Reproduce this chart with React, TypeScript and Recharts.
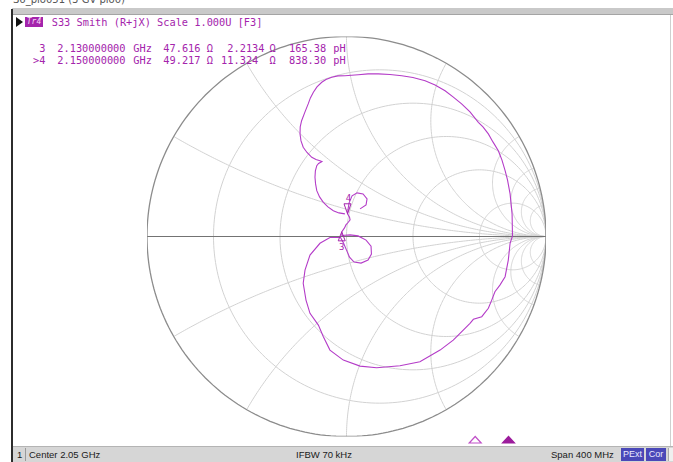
import React from 'react';
import { ScatterChart, Scatter, XAxis, YAxis } from 'recharts';

// ---- chart values ----
// Smith chart grid (normalised resistance circles, reactance arcs)
const resistanceCircles = [0.2, 0.5, 1, 2, 5];
const reactanceArcs = [0.268, 0.577, 1, 1.732, 3.73, 5.67, 8.1, 12.7];

// Trace 4: S33 reflection coefficient, real and imaginary parts
const traceRe = [
  0.068, 0.098, 0.103, 0.083, 0.053, 0.028, 0.013, 0.008, 0.005, 0.015, 0.018, 0.008, -0.003, -0.01, -0.024,
  -0.023, 0.018, 0.058, 0.098, 0.123, 0.125, 0.108, 0.073, 0.038, 0.015, 0.0, -0.015, -0.03, -0.083, -0.133,
  -0.183, -0.208, -0.217, -0.203, -0.183, -0.141, -0.116, -0.083, -0.016, 0.068, 0.151, 0.268, 0.368, 0.469,
  0.535, 0.569, 0.619, 0.636, 0.678, 0.711, 0.728, 0.744, 0.769, 0.795, 0.811, 0.82, 0.832, 0.83, 0.82, 0.807,
  0.795, 0.779, 0.761, 0.734, 0.711, 0.684, 0.661, 0.619, 0.577, 0.534, 0.494, 0.444, 0.394, 0.333, 0.277,
  0.218, 0.159, 0.108, 0.059, -0.008, -0.043, -0.074, -0.103, -0.124, -0.148, -0.166, -0.181, -0.192, -0.208,
  -0.225, -0.232, -0.233, -0.228, -0.217, -0.198, -0.174, -0.153, -0.133, -0.123, -0.14, -0.149, -0.156,
  -0.158, -0.155, -0.149, -0.135, -0.116, -0.093, -0.066, -0.038, -0.008,
];
const traceIm = [
  0.138, 0.158, 0.188, 0.213, 0.218, 0.203, 0.168, 0.138, 0.113, 0.098, 0.083, 0.07, 0.058, 0.043, 0.023,
  0.005, 0.008, 0.003, -0.018, -0.048, -0.088, -0.118, -0.133, -0.128, -0.103, -0.068, -0.033, -0.005, -0.005,
  -0.034, -0.093, -0.168, -0.234, -0.318, -0.384, -0.443, -0.501, -0.568, -0.618, -0.648, -0.656, -0.646,
  -0.626, -0.568, -0.518, -0.484, -0.434, -0.414, -0.401, -0.359, -0.318, -0.276, -0.243, -0.201, -0.118,
  -0.034, 0.003, 0.113, 0.213, 0.283, 0.329, 0.383, 0.429, 0.473, 0.513, 0.548, 0.571, 0.623, 0.663, 0.698,
  0.729, 0.758, 0.779, 0.795, 0.804, 0.81, 0.813, 0.813, 0.809, 0.804, 0.803, 0.796, 0.785, 0.771, 0.748,
  0.721, 0.693, 0.663, 0.623, 0.579, 0.548, 0.513, 0.478, 0.446, 0.42, 0.396, 0.385, 0.379, 0.375, 0.365,
  0.354, 0.328, 0.296, 0.263, 0.229, 0.198, 0.171, 0.148, 0.129, 0.118, 0.113,
];

// Markers
const markerIds = ['3', '4'];
const activeMarker = '4';
const markerFreqGHz = [2.13, 2.15];
const markerResOhm = [47.616, 49.217];
const markerReactOhm = [2.2134, 11.324];
const markerIndPH = [165.38, 838.3];
const Z0 = 50;

// Channel settings
const traceName = 'Tr4';
const traceTitle = 'S33 Smith (R+jX) Scale 1.000U [F3]';
const windowTitle = 'S6_plo051 (3 GV plo0)';
const channelNo = '1';
const centerGHz = 2.05;
const spanMHz = 400;
const ifbwKHz = 70;

// ---- layout / style ----
const W = 673;
const H = 462;
const TRACE = '#b43cc8';
const TEXT = '#a424ac';
const GRID = '#d2d2d2';
const MONO = '"DejaVu Sans Mono", "Liberation Mono", monospace';
const CW = 6.2; // monospace advance at 10.3px

type P = { x: number; y: number };

const resistancePts = (r: number): P[] => {
  const c = r / (1 + r);
  const rad = 1 / (1 + r);
  const out: P[] = [];
  for (let i = 0; i <= 240; i++) {
    const t = (i / 240) * Math.PI * 2;
    out.push({ x: c + rad * Math.cos(t), y: rad * Math.sin(t) });
  }
  return out;
};

const reactancePts = (x: number, sign: number): P[] => {
  const R = 1 / x;
  const ex = (x * x - 1) / (x * x + 1);
  const ey = (2 * x) / (x * x + 1);
  let end = Math.atan2(ey - R, ex - 1);
  if (end > -Math.PI / 2) end -= Math.PI * 2;
  const start = -Math.PI / 2;
  const out: P[] = [];
  const n = 160;
  for (let i = 0; i <= n; i++) {
    const phi = start + ((end - start) * i) / n;
    out.push({ x: 1 + R * Math.cos(phi), y: sign * (R + R * Math.sin(phi)) });
  }
  return out;
};

const gamma = (r: number, xv: number): P => {
  const zr = r / Z0;
  const zi = xv / Z0;
  const nr = zr - 1;
  const dr = zr + 1;
  const d = dr * dr + zi * zi;
  return { x: (nr * dr + zi * zi) / d, y: (zi * dr - nr * zi) / d };
};

const tracePts: P[] = traceRe.map((re, i) => ({ x: re, y: traceIm[i] }));
const markerPts = markerIds.map((id, i) => ({ id, ...gamma(markerResOhm[i], markerReactOhm[i]) }));

const outerPts = resistancePts(0);
const axisPts: P[] = [{ x: -1, y: 0 }, { x: 1, y: 0 }];

const noDot = () => <g />;

const MarkerShape = (props: any) => {
  const { cx, cy, payload } = props;
  if (cx == null || cy == null) return <g />;
  const up = payload.id !== activeMarker;
  if (up) {
    return (
      <g>
        <path d={`M${cx},${cy} L${cx - 3.5},${cy + 9} L${cx + 3.5},${cy + 9} Z`} fill="none" stroke={TEXT} strokeWidth={1} />
        <text x={cx} y={cy + 18} textAnchor="middle" fontSize={9} fontFamily={MONO} fill={TEXT}>{payload.id}</text>
      </g>
    );
  }
  return (
    <g>
      <path d={`M${cx},${cy} L${cx - 3.5},${cy - 10} L${cx + 3.5},${cy - 10} Z`} fill="none" stroke={TEXT} strokeWidth={1} />
      <text x={cx + 1} y={cy - 13} textAnchor="middle" fontSize={9} fontFamily={MONO} fill={TEXT}>{payload.id}</text>
    </g>
  );
};

const Txt = ({ x, y, children, color = TEXT, size = 10.3, font = MONO }: any) => (
  <span style={{ position: 'absolute', left: x, top: y, color, fontSize: size, fontFamily: font, lineHeight: '12px', whiteSpace: 'pre' }}>
    {children}
  </span>
);

// place a number so its decimal point sits at decX
const decLeft = (s: string, decX: number) => decX - (s.indexOf('.') < 0 ? s.length : s.indexOf('.')) * CW;

const stimLeft = 9;
const stimWidth = 666;
const startGHz = centerGHz - spanMHz / 2000;
const stimX = (f: number) => stimLeft + ((f - startGHz) / (spanMHz / 1000)) * stimWidth;

export default function App() {
  return (
    <div style={{ position: 'fixed', left: 0, top: 0, width: W, height: H, background: '#fff', overflow: 'hidden' }}>
      {/* window title, cut off by the top edge */}
      <div style={{ position: 'absolute', left: 13, top: 0, height: 8, width: 200, overflow: 'hidden' }}>
        <span style={{ position: 'absolute', top: -6, left: 0, fontSize: 10, fontFamily: '"DejaVu Sans", sans-serif', color: '#555', whiteSpace: 'pre' }}>{windowTitle}</span>
      </div>
      <div style={{ position: 'absolute', left: 12, top: 8, width: W - 12, height: 6, background: '#c9c9c9', borderBottom: '1px solid #a4a4a4' }} />
      <div style={{ position: 'absolute', left: 11, top: 9, width: 2, height: H - 9, background: '#2c2c2c' }} />
      <div style={{ position: 'absolute', left: 670, top: 15, width: 1, height: 432, background: '#cfcfcf' }} />

      <div style={{ position: 'absolute', left: 0, top: 0 }}>
        <ScatterChart width={W} height={H} margin={{ top: 36.5, right: 127, bottom: 25.5, left: 147 }}>
          <XAxis type="number" dataKey="x" domain={[-1, 1]} hide allowDataOverflow />
          <YAxis type="number" dataKey="y" domain={[-1, 1]} hide allowDataOverflow />
          {resistanceCircles.map((r) => (
            <Scatter key={`r${r}`} data={resistancePts(r)} line={{ stroke: GRID, strokeWidth: 1 }} shape={noDot} isAnimationActive={false} />
          ))}
          {reactanceArcs.map((x) => (
            <Scatter key={`xp${x}`} data={reactancePts(x, 1)} line={{ stroke: GRID, strokeWidth: 1 }} shape={noDot} isAnimationActive={false} />
          ))}
          {reactanceArcs.map((x) => (
            <Scatter key={`xn${x}`} data={reactancePts(x, -1)} line={{ stroke: GRID, strokeWidth: 1 }} shape={noDot} isAnimationActive={false} />
          ))}
          <Scatter data={axisPts} line={{ stroke: '#737373', strokeWidth: 1.2 }} shape={noDot} isAnimationActive={false} />
          <Scatter data={outerPts} line={{ stroke: '#8c8c8c', strokeWidth: 1.3 }} shape={noDot} isAnimationActive={false} />
          <Scatter data={tracePts} line={{ stroke: TRACE, strokeWidth: 1.1 }} shape={noDot} isAnimationActive={false} />
          <Scatter data={markerPts} shape={MarkerShape} isAnimationActive={false} />
        </ScatterChart>
      </div>

      {/* trace header */}
      <svg style={{ position: 'absolute', left: 16, top: 17 }} width={8} height={11}>
        <path d="M0,0 L7,5 L0,10 Z" fill="#111" />
      </svg>
      <div style={{ position: 'absolute', left: 25, top: 17, width: 18, height: 10, background: '#a424ac', color: '#f6d8f6', fontSize: 8, fontFamily: MONO, lineHeight: '10px', textAlign: 'center', fontStyle: 'italic' }}>{traceName}</div>
      <Txt x={51.7} y={15.5}>{traceTitle}</Txt>

      {/* marker readout */}
      {markerIds.map((id, i) => {
        const y = 42.3 + i * 11.7;
        const label = (id === activeMarker ? '>' : '') + id;
        const f = markerFreqGHz[i].toFixed(9);
        const r = markerResOhm[i].toPrecision(5);
        const xv = markerReactOhm[i].toPrecision(5);
        const l = markerIndPH[i].toFixed(2);
        return (
          <React.Fragment key={id}>
            <Txt x={45.5 - label.length * CW} y={y}>{label}</Txt>
            <Txt x={57.3} y={y}>{f}</Txt>
            <Txt x={133.3} y={y}>GHz</Txt>
            <Txt x={decLeft(r, 175.7)} y={y}>{r}</Txt>
            <Txt x={206.7} y={y}>Ω</Txt>
            <Txt x={decLeft(xv, 233.5)} y={y}>{xv}</Txt>
            <Txt x={269.5} y={y}>Ω</Txt>
            <Txt x={decLeft(l, 307.6)} y={y}>{l}</Txt>
            <Txt x={333.3} y={y}>pH</Txt>
          </React.Fragment>
        );
      })}

      {/* marker positions on the stimulus axis */}
      <svg style={{ position: 'absolute', left: 0, top: 434 }} width={W} height={12}>
        {markerIds.map((id, i) => {
          const cx = stimX(markerFreqGHz[i]);
          const act = id === activeMarker;
          return (
            <path key={id} d={`M${cx},${2.5} L${cx - 6},${9} L${cx + 6},${9} Z`} fill={act ? '#9c1c9c' : '#fff'} stroke={act ? '#9c1c9c' : '#c050c8'} strokeWidth={1.2} />
          );
        })}
      </svg>

      {/* status bar */}
      <div style={{ position: 'absolute', left: 13, top: 446, width: W - 13, height: 16, background: '#d6d6d6', borderTop: '1px solid #b4b4b4' }} />
      <div style={{ position: 'absolute', left: 14, top: 448, width: 11, height: 13, borderRight: '1px solid #9a9a9a' }} />
      <Txt x={17} y={449} color="#1a1a1a" size={9.5} font='"Liberation Sans", Arial, sans-serif'>{channelNo}</Txt>
      <Txt x={29} y={449} color="#1a1a1a" size={9.5} font='"Liberation Sans", Arial, sans-serif'>{`Center ${centerGHz} GHz`}</Txt>
      <Txt x={296} y={449} color="#1a1a1a" size={9.5} font='"Liberation Sans", Arial, sans-serif'>{`IFBW ${ifbwKHz} kHz`}</Txt>
      <Txt x={551} y={449} color="#1a1a1a" size={9.5} font='"Liberation Sans", Arial, sans-serif'>{`Span ${spanMHz} MHz`}</Txt>
      <div style={{ position: 'absolute', left: 621, top: 448, width: 23, height: 13, background: '#4a48b8', color: '#e8e8ff', fontSize: 9, fontFamily: '"Liberation Sans", Arial, sans-serif', lineHeight: '13px', textAlign: 'center' }}>PExt</div>
      <div style={{ position: 'absolute', left: 646, top: 448, width: 20, height: 13, background: '#4a48b8', color: '#e8e8ff', fontSize: 9, fontFamily: '"Liberation Sans", Arial, sans-serif', lineHeight: '13px', textAlign: 'center' }}>Cor</div>
      <div style={{ position: 'absolute', left: 668, top: 448, width: 5, height: 13, background: '#efefef', borderLeft: '1px solid #aaa' }} />
    </div>
  );
}
